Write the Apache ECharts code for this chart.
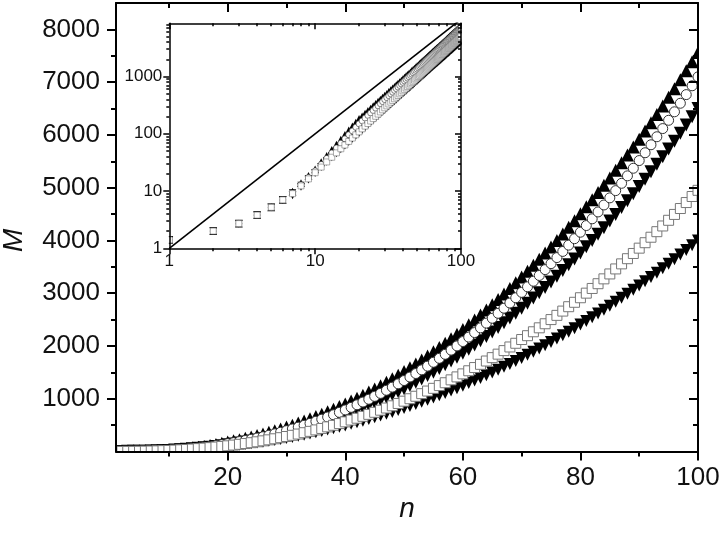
<!DOCTYPE html>
<html>
<head>
<meta charset="utf-8">
<title>M vs n</title>
<script src="https://cdn.jsdelivr.net/npm/echarts@6.0.0/dist/echarts.min.js"></script>
<style>
  html, body { margin: 0; padding: 0; background: #fff; }
  #chart { width: 720px; height: 536px; }
</style>
</head>
<body>
<div id="chart"></div>
<script>
// n values (one marker per integer n)
var nList = [
  1, 2, 3, 4, 5, 6, 7, 8, 9, 10, 11, 12, 13, 14, 15, 16, 17, 18, 19, 20,
  21, 22, 23, 24, 25, 26, 27, 28, 29, 30, 31, 32, 33, 34, 35, 36, 37, 38, 39, 40,
  41, 42, 43, 44, 45, 46, 47, 48, 49, 50, 51, 52, 53, 54, 55, 56, 57, 58, 59, 60,
  61, 62, 63, 64, 65, 66, 67, 68, 69, 70, 71, 72, 73, 74, 75, 76, 77, 78, 79, 80,
  81, 82, 83, 84, 85, 86, 87, 88, 89, 90, 91, 92, 93, 94, 95, 96, 97, 98, 99, 100
]
// filled up triangles (top band)
var upTri = [
  1.4, 2.0, 2.7, 3.8, 5.2, 7.0, 9.8, 13.7, 18.4, 23.9,
  31.8, 41.2, 52.2, 64.8, 79.3, 95.6, 114, 134, 156, 181,
  202, 225, 250, 276, 303, 332, 363, 394, 428, 463,
  499, 538, 577, 619, 662, 707, 753, 801, 851, 902,
  955, 1010, 1067, 1126, 1186, 1248, 1312, 1377, 1445, 1514,
  1585, 1658, 1733, 1810, 1889, 1969, 2052, 2136, 2223, 2311,
  2401, 2494, 2588, 2684, 2783, 2883, 2986, 3090, 3196, 3305,
  3415, 3528, 3643, 3760, 3878, 3999, 4123, 4248, 4375, 4505,
  4637, 4771, 4907, 5045, 5185, 5328, 5473, 5620, 5769, 5920,
  6074, 6230, 6388, 6549, 6712, 6877, 7044, 7214, 7386, 7560
]
// open circles
var openCirc = [
  1.4, 2.0, 2.7, 3.8, 5.2, 7.0, 9.2, 12.9, 17.3, 22.5,
  29.2, 37.1, 46.2, 56.6, 68.4, 81.5, 96.1, 112, 130, 149,
  168, 188, 209, 231, 255, 280, 307, 335, 364, 395,
  427, 461, 496, 533, 572, 612, 653, 696, 741, 788,
  836, 885, 937, 990, 1045, 1101, 1160, 1220, 1282, 1345,
  1411, 1478, 1547, 1618, 1691, 1766, 1842, 1921, 2001, 2084,
  2168, 2254, 2343, 2433, 2525, 2619, 2716, 2814, 2914, 3016,
  3121, 3227, 3336, 3447, 3560, 3675, 3792, 3911, 4033, 4156,
  4282, 4410, 4540, 4672, 4807, 4944, 5083, 5224, 5368, 5514,
  5662, 5813, 5965, 6120, 6277, 6438, 6600, 6764, 6931, 7100
]
// filled down triangles (just under the circles)
var downTri = [
  1.4, 2.0, 2.7, 3.8, 5.2, 7.0, 8.4, 11.8, 15.8, 20.6,
  26.4, 33.2, 40.9, 49.8, 59.5, 70.6, 82.7, 96.0, 111, 127,
  143, 160, 178, 198, 218, 240, 264, 288, 314, 341,
  370, 400, 431, 463, 498, 533, 570, 609, 648, 690,
  733, 777, 824, 871, 920, 971, 1024, 1078, 1134, 1191,
  1250, 1311, 1374, 1438, 1504, 1572, 1642, 1713, 1786, 1861,
  1938, 2017, 2098, 2180, 2264, 2350, 2439, 2529, 2621, 2715,
  2811, 2908, 3008, 3110, 3214, 3320, 3428, 3538, 3650, 3764,
  3880, 3999, 4119, 4242, 4367, 4493, 4622, 4754, 4887, 5022,
  5160, 5300, 5442, 5586, 5733, 5882, 6033, 6187, 6342, 6500
]
// open squares
var openSq = [
  1.4, 2.0, 2.7, 3.8, 5.2, 7.0, 9.0, 12.3, 16.3, 20.9,
  26.2, 32.2, 38.9, 46.4, 54.7, 63.7, 73.6, 84.3, 95.9, 108,
  122, 136, 151, 167, 184, 202, 221, 241, 262, 284,
  307, 331, 356, 382, 409, 437, 467, 497, 529, 562,
  596, 631, 667, 704, 743, 783, 824, 866, 910, 954,
  1000, 1047, 1096, 1146, 1197, 1249, 1303, 1358, 1414, 1471,
  1530, 1591, 1652, 1715, 1779, 1845, 1912, 1981, 2051, 2122,
  2195, 2269, 2344, 2421, 2500, 2580, 2661, 2744, 2828, 2914,
  3001, 3090, 3180, 3272, 3365, 3460, 3556, 3654, 3753, 3854,
  3957, 4061, 4166, 4274, 4382, 4493, 4605, 4718, 4833, 4950
]
// filled markers, lowest band
var lowTri = [
  1.4, 2.0, 2.7, 3.8, 5.2, 7.0, 9.3, 12.6, 16.5, 21.0,
  26.1, 31.8, 38.2, 45.2, 52.9, 61.3, 70.4, 80.2, 90.7, 102,
  114, 127, 140, 155, 170, 185, 202, 220, 238, 257,
  277, 298, 319, 342, 365, 389, 415, 441, 467, 495,
  524, 553, 584, 615, 648, 681, 715, 750, 787, 824,
  862, 901, 941, 982, 1024, 1066, 1110, 1155, 1201, 1248,
  1296, 1345, 1395, 1446, 1498, 1551, 1605, 1660, 1716, 1774,
  1832, 1891, 1952, 2013, 2076, 2140, 2204, 2270, 2337, 2405,
  2474, 2544, 2616, 2688, 2761, 2836, 2912, 2989, 3067, 3146,
  3226, 3308, 3390, 3474, 3559, 3645, 3732, 3820, 3909, 4000
]
// reference line in the inset (M = n^2)
var refLineN = [1, 100]
var refLineM = [1, 10000]

// tick values
var xMajor = [20, 40, 60, 80, 100]
var xMinor = [10, 30, 50, 70, 90]
var yMajor = [1000, 2000, 3000, 4000, 5000, 6000, 7000, 8000]
var yMinor = [500, 1500, 2500, 3500, 4500, 5500, 6500, 7500]
var insetXMajor = [1, 10, 100]
var insetXMinor = [2, 3, 4, 5, 6, 7, 8, 9, 20, 30, 40, 50, 60, 70, 80, 90]
var insetYMajor = [1, 10, 100, 1000]
var insetYMinor = [2, 3, 4, 5, 6, 7, 8, 9, 20, 30, 40, 50, 60, 70, 80, 90,
  200, 300, 400, 500, 600, 700, 800, 900, 2000, 3000, 4000, 5000, 6000, 7000, 8000]

var font = 'Liberation Sans, Arial, sans-serif'

function pairs (xs, ys) {
  return xs.map(function (x, i) { return [x, ys[i]] })
}

// one axis = one set of ticks on one side
function sideAxis (o) {
  return {
    type: o.type || 'value',
    gridIndex: o.grid,
    position: o.pos,
    min: o.min,
    max: o.max,
    z: 10,
    axisLine: { show: o.line !== false, onZero: false, lineStyle: { color: '#000', width: o.lw } },
    axisTick: { show: true, inside: !!o.inside, length: o.len, customValues: o.ticks, lineStyle: { color: '#000', width: o.lw } },
    axisLabel: o.labels ? {
      show: true,
      customValues: o.labels,
      margin: o.margin,
      fontSize: o.fs,
      color: '#111',
      fontFamily: font,
      formatter: function (v) { return String(v) }
    } : { show: false },
    splitLine: { show: false },
    minorTick: { show: false }
  }
}

var xAxes = [
  sideAxis({ grid: 0, pos: 'bottom', min: 1, max: 100, lw: 2, len: 9, ticks: xMajor, labels: xMajor, margin: 13, fs: 26 }),
  sideAxis({ grid: 0, pos: 'bottom', min: 1, max: 100, lw: 2, len: 5, ticks: xMinor, line: false }),
  sideAxis({ grid: 0, pos: 'top', min: 1, max: 100, lw: 2, len: 9, ticks: xMajor, inside: true }),
  sideAxis({ grid: 0, pos: 'top', min: 1, max: 100, lw: 2, len: 5, ticks: xMinor, inside: true, line: false }),
  sideAxis({ grid: 1, type: 'log', pos: 'bottom', min: 1, max: 100, lw: 1.5, len: 6, ticks: insetXMajor, labels: insetXMajor, margin: 5, fs: 17 }),
  sideAxis({ grid: 1, type: 'log', pos: 'bottom', min: 1, max: 100, lw: 1.5, len: 3, ticks: insetXMinor, line: false }),
  sideAxis({ grid: 1, type: 'log', pos: 'top', min: 1, max: 100, lw: 1.5, len: 6, ticks: insetXMajor, inside: true }),
  sideAxis({ grid: 1, type: 'log', pos: 'top', min: 1, max: 100, lw: 1.5, len: 3, ticks: insetXMinor, inside: true, line: false })
]
xAxes[0].name = 'n'
xAxes[0].nameLocation = 'middle'
xAxes[0].nameGap = 28
xAxes[0].nameTextStyle = { fontSize: 28, fontStyle: 'italic', fontFamily: font, color: '#111' }

var yAxes = [
  sideAxis({ grid: 0, pos: 'left', min: 0, max: 8500, lw: 2, len: 9, ticks: yMajor, labels: yMajor, margin: 16, fs: 26 }),
  sideAxis({ grid: 0, pos: 'left', min: 0, max: 8500, lw: 2, len: 5, ticks: yMinor, line: false }),
  sideAxis({ grid: 0, pos: 'right', min: 0, max: 8500, lw: 2, len: 9, ticks: yMajor, inside: true }),
  sideAxis({ grid: 0, pos: 'right', min: 0, max: 8500, lw: 2, len: 5, ticks: yMinor, inside: true, line: false }),
  sideAxis({ grid: 1, type: 'log', pos: 'left', min: 1, max: 8500, lw: 1.5, len: 6, ticks: insetYMajor, labels: insetYMajor, margin: 7, fs: 17 }),
  sideAxis({ grid: 1, type: 'log', pos: 'left', min: 1, max: 8500, lw: 1.5, len: 3, ticks: insetYMinor, line: false }),
  sideAxis({ grid: 1, type: 'log', pos: 'right', min: 1, max: 8500, lw: 1.5, len: 6, ticks: insetYMajor, inside: true }),
  sideAxis({ grid: 1, type: 'log', pos: 'right', min: 1, max: 8500, lw: 1.5, len: 3, ticks: insetYMinor, inside: true, line: false })
]
yAxes[0].name = 'M'
yAxes[0].nameLocation = 'middle'
yAxes[0].nameGap = 88
yAxes[0].nameRotate = 90
yAxes[0].nameTextStyle = { fontSize: 28, fontStyle: 'italic', fontFamily: font, color: '#111', padding: [0, 26, 0, 0] }

function scatter (name, ys, inset, symbol, size, rotate, fill, stroke, bw) {
  return {
    name: name,
    type: 'scatter',
    xAxisIndex: inset ? 4 : 0,
    yAxisIndex: inset ? 4 : 0,
    symbol: symbol,
    symbolSize: size,
    symbolRotate: rotate,
    itemStyle: { color: fill, borderColor: stroke, borderWidth: bw, opacity: 1 },
    emphasis: { disabled: true },
    data: pairs(nList, ys)
  }
}

function markerSet (inset) {
  var k = inset ? 0.6 : 1
  return [
    scatter('up', upTri, inset, 'triangle', 13 * k, 0, '#000', '#000', 0),
    scatter('down', downTri, inset, 'triangle', 13 * k, 180, '#000', '#000', 0),
    scatter('low', lowTri, inset, 'triangle', 12 * k, 180, '#000', '#000', 0),
    scatter('circle', openCirc, inset, 'circle', 10 * k, 0, '#fff', '#333', inset ? 0.6 : 1),
    scatter('square', openSq, inset, 'rect', 10 * k, 0, '#fff', '#777', inset ? 0.6 : 1)
  ]
}

var series = markerSet(false).concat(markerSet(true))
series.push({
  type: 'line',
  xAxisIndex: 4,
  yAxisIndex: 4,
  showSymbol: false,
  clip: true,
  lineStyle: { color: '#000', width: 1.6 },
  data: pairs(refLineN, refLineM)
})

// white masks so markers look clipped at the frames
function mask (x, y, w, h) {
  return { type: 'rect', z: 5, silent: true, shape: { x: x, y: y, width: w, height: h }, style: { fill: '#fff' } }
}

var chart = echarts.init(document.getElementById('chart'))
var option = {
  animation: false,
  backgroundColor: '#fff',
  grid: [
    { left: 116, top: 3, right: 22, height: 448.5, show: false, outerBoundsMode: 'none' },
    { left: 169.3, top: 23.3, width: 291.7, height: 225, show: true, backgroundColor: '#fff', borderWidth: 0, outerBoundsMode: 'none' }
  ],
  xAxis: xAxes,
  yAxis: yAxes,
  series: series,
  graphic: [
    mask(60, 0, 55.5, 536),
    mask(0, 452.5, 720, 84),
    mask(698.5, 0, 22, 536),
    mask(150, 15, 18.8, 242),
    mask(461.8, 15, 8, 240),
    mask(150, 249, 320, 8)
  ]
}
chart.setOption(option)
</script>
</body>
</html>
